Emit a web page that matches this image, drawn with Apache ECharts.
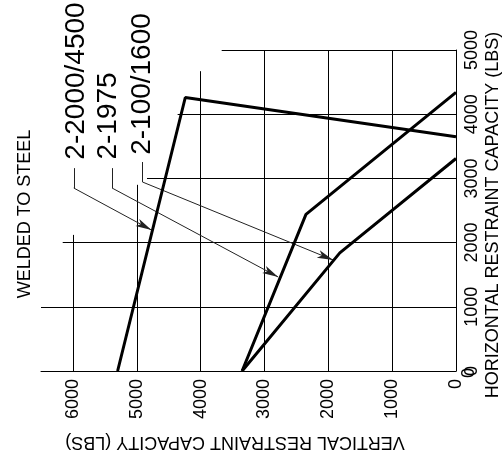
<!DOCTYPE html>
<html>
<head>
<meta charset="utf-8">
<script src="https://cdn.jsdelivr.net/npm/echarts@6/dist/echarts.min.js"></script>
<style>html,body{margin:0;padding:0;background:#fff}#c{width:503px;height:457px}</style>
</head>
<body>
<div id="c"></div>
<script>
// ---- data (values in LBS) ----
var xTicks = [0, 1000, 2000, 3000, 4000, 5000, 6000];
var yTicks = [0, 1000, 2000, 3000, 4000, 5000];
var seriesNames = ['2-2000/4500', '2-1975', '2-100/1600'];
var curveWelded = [[5300, 0], [4240, 4260], [0, 3650]];     // 2-2000/4500
var curve1975 = [[3350, 0], [2350, 2440], [0, 4340]];       // 2-1975
var curve100 = [[3350, 0], [1820, 1840], [0, 3310]];        // 2-100/1600
// staircase grid: vertical lines [x, topY], horizontal lines [y, leftX]
var vGrid = [[6000, 2120], [5000, 2900], [4000, 4670], [3000, 5000], [2000, 5000], [1000, 5000]];
var hGrid = [[5000, 3670], [4000, 4360], [3000, 4840], [2000, 6160], [1000, 6500]];
// leader lines: stub start, bend, arrow tip
var leaderWelded = [[5987, 3160], [5987, 2850], [4770, 2196]];
var leader1975 = [[5387, 3160], [5387, 2850], [2785, 1464]];
var leader100 = [[4911, 3255], [4911, 2944], [1925, 1729]];

var FONT = '"Liberation Sans", Arial, sans-serif';
var chart = echarts.init(document.getElementById('c'), null, {renderer: 'canvas'});

function seg(a, b) { return [{coord: a}, {coord: b}]; }
var gridLines = [];
vGrid.forEach(function (v) { gridLines.push(seg([v[0], 0], [v[0], v[1]])); });
hGrid.forEach(function (h) { gridLines.push(seg([0, h[0]], [h[1], h[0]])); });

function curve(name, data) {
  return {
    name: name, type: 'line', data: data, symbol: 'none', silent: true, animation: false,
    lineStyle: {color: '#000', width: 3}, z: 5
  };
}
function leader(name, pts) {
  return {
    name: name + ' leader', type: 'line', data: [], silent: true, animation: false,
    markLine: {
      silent: true, animation: false, label: {show: false},
      lineStyle: {color: '#222', width: 1, type: 'solid'},
      symbol: ['none', 'none'],
      data: [
        seg(pts[0], pts[1]),
        [{coord: pts[1], symbol: 'none'}, {coord: pts[2], symbol: 'arrow', symbolSize: [6, 16]}]
      ]
    }
  };
}

var option = {
  animation: false,
  grid: {left: 41, right: 47, top: 50, bottom: 86, containLabel: false},
  xAxis: {
    type: 'value', inverse: true, min: 0, max: 6500, interval: 1000,
    axisLine: {show: true, lineStyle: {color: '#000', width: 1}},
    axisTick: {show: false}, splitLine: {show: false},
    axisLabel: {
      rotate: 90, margin: 8, fontSize: 18, color: '#000', fontFamily: FONT,
      showMinLabel: true, hideOverlap: false,
      formatter: function (v) { return xTicks.indexOf(v) >= 0 ? String(v) : ''; }
    }
  },
  yAxis: {
    type: 'value', position: 'right', min: 0, max: 5000, interval: 1000,
    axisLine: {show: true, onZero: false, lineStyle: {color: '#000', width: 1}},
    axisTick: {show: false}, splitLine: {show: false},
    axisLabel: {
      rotate: 90, margin: 7, fontSize: 18, color: '#000', fontFamily: FONT,
      showMinLabel: true, showMaxLabel: true, hideOverlap: false,
      formatter: function (v) { return yTicks.indexOf(v) >= 0 ? String(v) : ''; }
    }
  },
  series: [
    {
      name: 'grid', type: 'line', data: [], silent: true, animation: false,
      markLine: {
        silent: true, animation: false, symbol: ['none', 'none'], label: {show: false},
        lineStyle: {color: '#000', width: 1, type: 'solid'},
        data: gridLines
      }
    },
    curve(seriesNames[0], curveWelded),
    curve(seriesNames[1], curve1975),
    curve(seriesNames[2], curve100),
    leader(seriesNames[0], leaderWelded),
    leader(seriesNames[1], leader1975),
    leader(seriesNames[2], leader100)
  ],
  graphic: [
    {type: 'text', x: 76, y: 81, rotation: Math.PI / 2,
     style: {text: seriesNames[0], font: '28px ' + FONT, fill: '#000', align: 'center', verticalAlign: 'middle'}},
    {type: 'text', x: 108, y: 116, rotation: Math.PI / 2,
     style: {text: seriesNames[1], font: '28px ' + FONT, fill: '#000', align: 'center', verticalAlign: 'middle'}},
    {type: 'text', x: 142, y: 84, rotation: Math.PI / 2,
     style: {text: seriesNames[2], font: '28px ' + FONT, fill: '#000', align: 'center', verticalAlign: 'middle'}},
    {type: 'text', x: 25, y: 214, rotation: Math.PI / 2,
     style: {text: 'WELDED TO STEEL', font: '18px ' + FONT, fill: '#000', align: 'center', verticalAlign: 'middle'}},
    {type: 'text', x: 493, y: 215, rotation: Math.PI / 2,
     style: {text: 'HORIZONTAL RESTRAINT CAPACITY (LBS)', font: '18px ' + FONT, fill: '#000', align: 'center', verticalAlign: 'middle'}},
    {type: 'text', x: 235, y: 442, rotation: Math.PI,
     style: {text: 'VERTICAL RESTRAINT CAPACITY (LBS)', font: '18px ' + FONT, fill: '#000', align: 'center', verticalAlign: 'middle'}},
    {type: 'text', x: 469, y: 373, rotation: Math.PI / 2,
     style: {text: String(yTicks[0]), font: '18px ' + FONT, fill: '#000', align: 'center', verticalAlign: 'middle'}}
  ]
};
chart.setOption(option);
</script>
</body>
</html>
